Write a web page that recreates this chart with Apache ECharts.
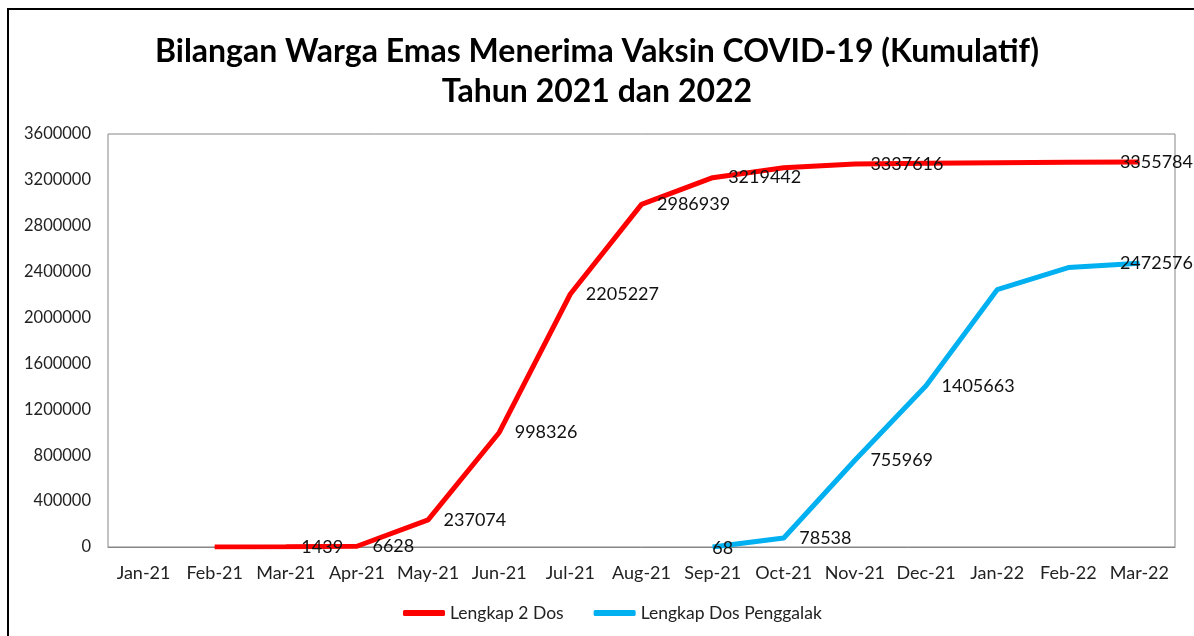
<!DOCTYPE html>
<html>
<head>
<meta charset="utf-8">
<script src="https://cdn.jsdelivr.net/npm/echarts@6/dist/echarts.min.js"></script>
<style>
  html, body { margin: 0; padding: 0; background: #fff; }
  #chart { width: 1194px; height: 636px; }
</style>
</head>
<body>
<div id="chart"></div>
<script>
const months = ['Jan-21', 'Feb-21', 'Mar-21', 'Apr-21', 'May-21', 'Jun-21', 'Jul-21', 'Aug-21',
    'Sep-21', 'Oct-21', 'Nov-21', 'Dec-21', 'Jan-22', 'Feb-22', 'Mar-22'];
const duaDos = [null, 0, 1439, 6628, 237074, 998326, 2205227, 2986939,
    3219442, 3305000, 3337616, 3346000, 3350000, 3353000, 3355784];
const penggalak = [null, null, null, null, null, null, null, null,
    68, 78538, 755969, 1405663, 2243000, 2436000, 2472576];
// which points carry a value label
const duaDosShown = [2, 3, 4, 5, 6, 7, 8, 10, 14];
const penggalakShown = [8, 9, 10, 11, 14];
const yTicks = [0, 400000, 800000, 1200000, 1600000, 2000000, 2400000, 2800000, 3200000, 3600000];

const font = 'Lato, "Open Sans", sans-serif';

function buildData(values, shown) {
    return values.map(function (v, i) {
        let label = { show: shown.indexOf(i) !== -1 };
        if (i === values.length - 1) {
            label.position = 'inside';
            label.offset = [17, 0];
        }
        if (i === 8 && values === penggalak) {
            label.position = 'inside';
            label.offset = [10, 1];
        }
        return { value: v, label: label };
    });
}

const chart = echarts.init(document.getElementById('chart'));
chart.setOption({
    animation: false,
    title: {
        text: 'Bilangan Warga Emas Menerima Vaksin COVID-19 (Kumulatif)\nTahun 2021 dan 2022',
        left: 'center',
        top: 27,
        textStyle: {
            fontFamily: font,
            fontWeight: 'bold',
            fontSize: 32,
            lineHeight: 40,
            color: '#000'
        }
    },
    legend: {
        bottom: 9,
        left: 398,
        icon: 'roundRect',
        itemWidth: 42,
        itemHeight: 6,
        itemGap: 30,
        textStyle: { fontFamily: font, fontSize: 17.5, color: '#222' },
        data: ['Lengkap 2 Dos', 'Lengkap Dos Penggalak']
    },
    grid: {
        left: 108,
        right: 19,
        top: 134,
        bottom: 89,
        show: true,
        borderColor: '#868686',
        borderWidth: 1
    },
    xAxis: {
        type: 'category',
        data: months,
        boundaryGap: true,
        axisLine: { lineStyle: { color: '#868686' } },
        axisTick: { show: false },
        axisLabel: { fontFamily: font, fontSize: 18, color: '#222', margin: 17, interval: 0 }
    },
    yAxis: {
        type: 'value',
        min: 0,
        max: yTicks[yTicks.length - 1],
        interval: 400000,
        axisLine: { show: false },
        axisTick: { show: false },
        splitLine: { show: false },
        axisLabel: {
            fontFamily: font, fontSize: 16.5, color: '#222', margin: 17,
            formatter: function (v) { return String(v); }
        }
    },
    graphic: [{
        type: 'rect',
        shape: { x: 8, y: 9, width: 1300, height: 800 },
        style: { fill: 'none', stroke: '#000', lineWidth: 2 },
        silent: true
    }],
    series: [{
        name: 'Lengkap 2 Dos',
        type: 'line',
        data: buildData(duaDos, duaDosShown),
        symbol: 'circle',
        symbolSize: 1,
        color: '#ff0000',
        lineStyle: { width: 5, color: '#ff0000' },
        label: {
            position: 'right',
            distance: 15,
            fontFamily: font,
            fontSize: 18,
            color: '#111'
        }
    }, {
        name: 'Lengkap Dos Penggalak',
        type: 'line',
        data: buildData(penggalak, penggalakShown),
        symbol: 'circle',
        symbolSize: 1,
        color: '#00b0f0',
        lineStyle: { width: 5, color: '#00b0f0' },
        label: {
            position: 'right',
            distance: 15,
            fontFamily: font,
            fontSize: 18,
            color: '#111'
        }
    }]
});
</script>
</body>
</html>
